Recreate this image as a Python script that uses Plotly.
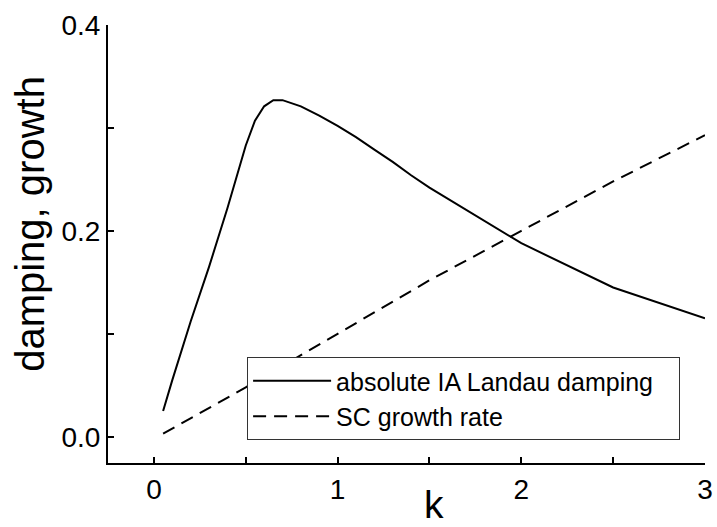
import plotly.graph_objects as go

# Data
k_damp = [0.05, 0.1, 0.2, 0.3, 0.4, 0.5, 0.55, 0.6, 0.65, 0.7, 0.8, 0.9,
          1.0, 1.1, 1.2, 1.3, 1.4, 1.5, 2.0, 2.5, 3.0]
damping = [0.025, 0.055, 0.112, 0.165, 0.222, 0.283, 0.307, 0.321, 0.327,
           0.327, 0.321, 0.312, 0.302, 0.291, 0.279, 0.267, 0.254, 0.242,
           0.188, 0.145, 0.115]

k_growth = [0.05, 0.1, 0.2, 0.5, 1.0, 1.5, 2.0, 2.5, 3.0]
growth = [0.003, 0.008, 0.018, 0.048, 0.100, 0.152, 0.200, 0.248, 0.293]

x_tickvals = [0, 0.5, 1, 1.5, 2, 2.5, 3]
x_ticktext = ["0", "", "1", "", "2", "", "3"]
y_tickvals = [0.0, 0.1, 0.2, 0.3, 0.4]
y_ticktext = ["0.0", "", "0.2", "", "0.4"]

FONT = "Liberation Sans, Arial, sans-serif"

fig = go.Figure()
fig.add_trace(go.Scatter(x=k_damp, y=damping, mode="lines",
                         name="absolute IA Landau damping\u00a0\u00a0\u00a0",
                         line=dict(color="black", width=2)))
fig.add_trace(go.Scatter(x=k_growth, y=growth, mode="lines",
                         name="SC growth rate",
                         line=dict(color="black", width=2, dash="13px,8px")))

axis_common = dict(showgrid=False, zeroline=False, showline=True,
                   linecolor="black", linewidth=2, ticks="inside",
                   ticklen=6, tickwidth=1.5, tickcolor="black",
                   tickfont=dict(family=FONT, size=28, color="black"),
                   mirror=False, automargin=False)

fig.update_xaxes(range=[-0.25, 3.0], tickmode="array",
                 tickvals=x_tickvals, ticktext=x_ticktext, **axis_common)
fig.update_yaxes(range=[-0.0255, 0.4], tickmode="array",
                 tickvals=y_tickvals, ticktext=y_ticktext, **axis_common)

fig.update_layout(
    template="none",
    width=717, height=527,
    margin=dict(l=108, r=12, t=25, b=64, autoexpand=False),
    paper_bgcolor="white", plot_bgcolor="white",
    font=dict(family=FONT, color="black"),
    showlegend=True,
    legend=dict(x=0.233, y=0.242, xanchor="left", yanchor="top",
                bordercolor="#333333", borderwidth=1, bgcolor="white",
                font=dict(family=FONT, size=25, color="black"),
                itemwidth=78, tracegroupgap=0),
    annotations=[
        dict(text="damping, growth", xref="paper", yref="paper",
             x=-0.1307, y=0.546, xanchor="center", yanchor="middle",
             textangle=-90, showarrow=False,
             font=dict(family=FONT, size=40, color="black")),
        dict(text="k", xref="paper", yref="paper",
             x=0.546, y=-0.04, xanchor="center", yanchor="top",
             showarrow=False,
             font=dict(family=FONT, size=39, color="black")),
    ],
)

fig.write_html("out.html",
               config={"displayModeBar": False},
               post_script="document.body.style.margin='0';"
                           "document.body.style.padding='0';")
